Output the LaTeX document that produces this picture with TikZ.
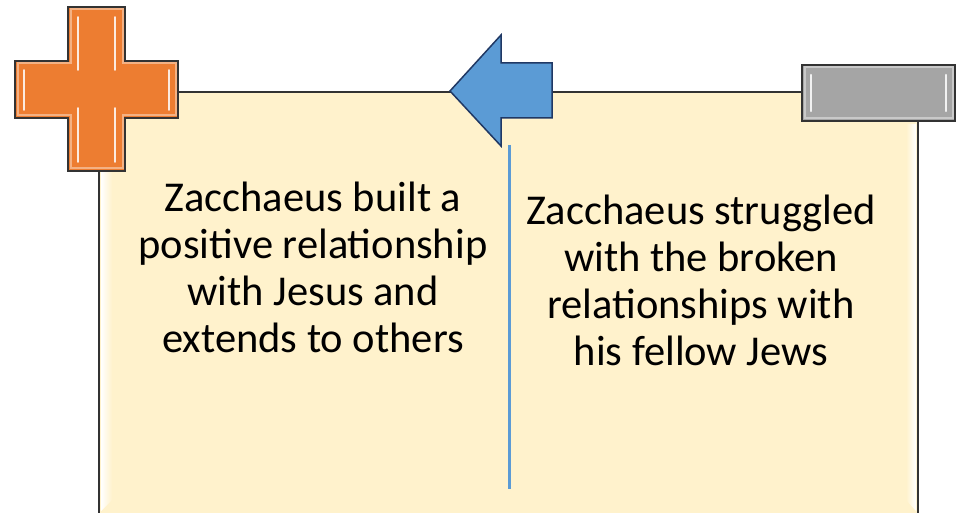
\documentclass[tikz,border=0pt]{standalone}
\usepackage{fontspec}
\setmainfont{Carlito}
\definecolor{paper}{HTML}{FFF2CC}
\definecolor{crossorange}{HTML}{ED7D31}
\definecolor{crosslight}{HTML}{F4B183}
\definecolor{arrowblue}{HTML}{5B9BD5}
\definecolor{arrowedge}{HTML}{203864}
\definecolor{bargray}{HTML}{A5A5A5}
\definecolor{barlight}{HTML}{C9C9C9}
\tikzset{
  edgeline/.style={draw=black!80, line width=1.8pt},
  streak/.style={white, line width=2.5pt, line cap=round, opacity=0.85},
  sidetext/.style={align=center, font=\fontsize{42.5}{47}\selectfont, text=black}
}
\begin{document}
\begin{tikzpicture}[x=1pt,y=-1pt]
\useasboundingbox (0,0) rectangle (963,513);
\clip (0,0) rectangle (963,513);
% paper
\fill[paper] (99,92) rectangle (918,530);
\shade[left color=white, right color=paper] (101,96) -- (112,106) -- (112,500) -- (101,511) -- cycle;
\shade[left color=paper, right color=white] (906,124) -- (916,124) -- (916,511) -- (906,500) -- cycle;
\draw[edgeline] (99,530) -- (99,92) -- (918,92) -- (918,530);
% divider
\draw[arrowblue, line width=3pt] (509,145) -- (509,489);
% plus sign
\draw[edgeline, fill=crossorange] (68,7) -- (125,7) -- (125,61) -- (178,61) -- (178,118) -- (125,118) -- (125,171) -- (68,171) -- (68,118) -- (15,118) -- (15,61) -- (68,61) -- cycle;
\draw[crosslight, line width=2pt] (70.5,9.5) -- (122.5,9.5) -- (122.5,63.5) -- (175.5,63.5) -- (175.5,115.5) -- (122.5,115.5) -- (122.5,168.5) -- (70.5,168.5) -- (70.5,115.5) -- (17.5,115.5) -- (17.5,63.5) -- (70.5,63.5) -- cycle;
\foreach \xa/\ya/\xb/\yb in {78/17/78/70, 115/17/115/70, 78/108/78/162, 115/108/115/162, 24/70/24/110, 169/70/169/110}
  \draw[streak, line width=1.8pt] (\xa,\ya) -- (\xb,\yb);
% arrow
\draw[draw=arrowedge, line width=1.5pt, fill=arrowblue] (450,91) -- (501,35) -- (501,63) -- (552,63) -- (552,118) -- (501,118) -- (501,146) -- cycle;
% minus sign
\draw[edgeline, fill=bargray] (802,65) rectangle (955,121);
\draw[barlight, line width=2pt] (804.5,67.5) rectangle (952.5,118.5);
\draw[streak] (811,75) -- (811,111);
\draw[streak] (946,75) -- (946,111);
% texts
\node[sidetext] (gain) at (313,267) {Zacchaeus built a\\positive relationship\\with Jesus and\\extends to others};
\node[sidetext] (loss) at (701,280) {Zacchaeus struggled\\with the broken\\relationships with\\his fellow Jews};
\end{tikzpicture}
\end{document}
